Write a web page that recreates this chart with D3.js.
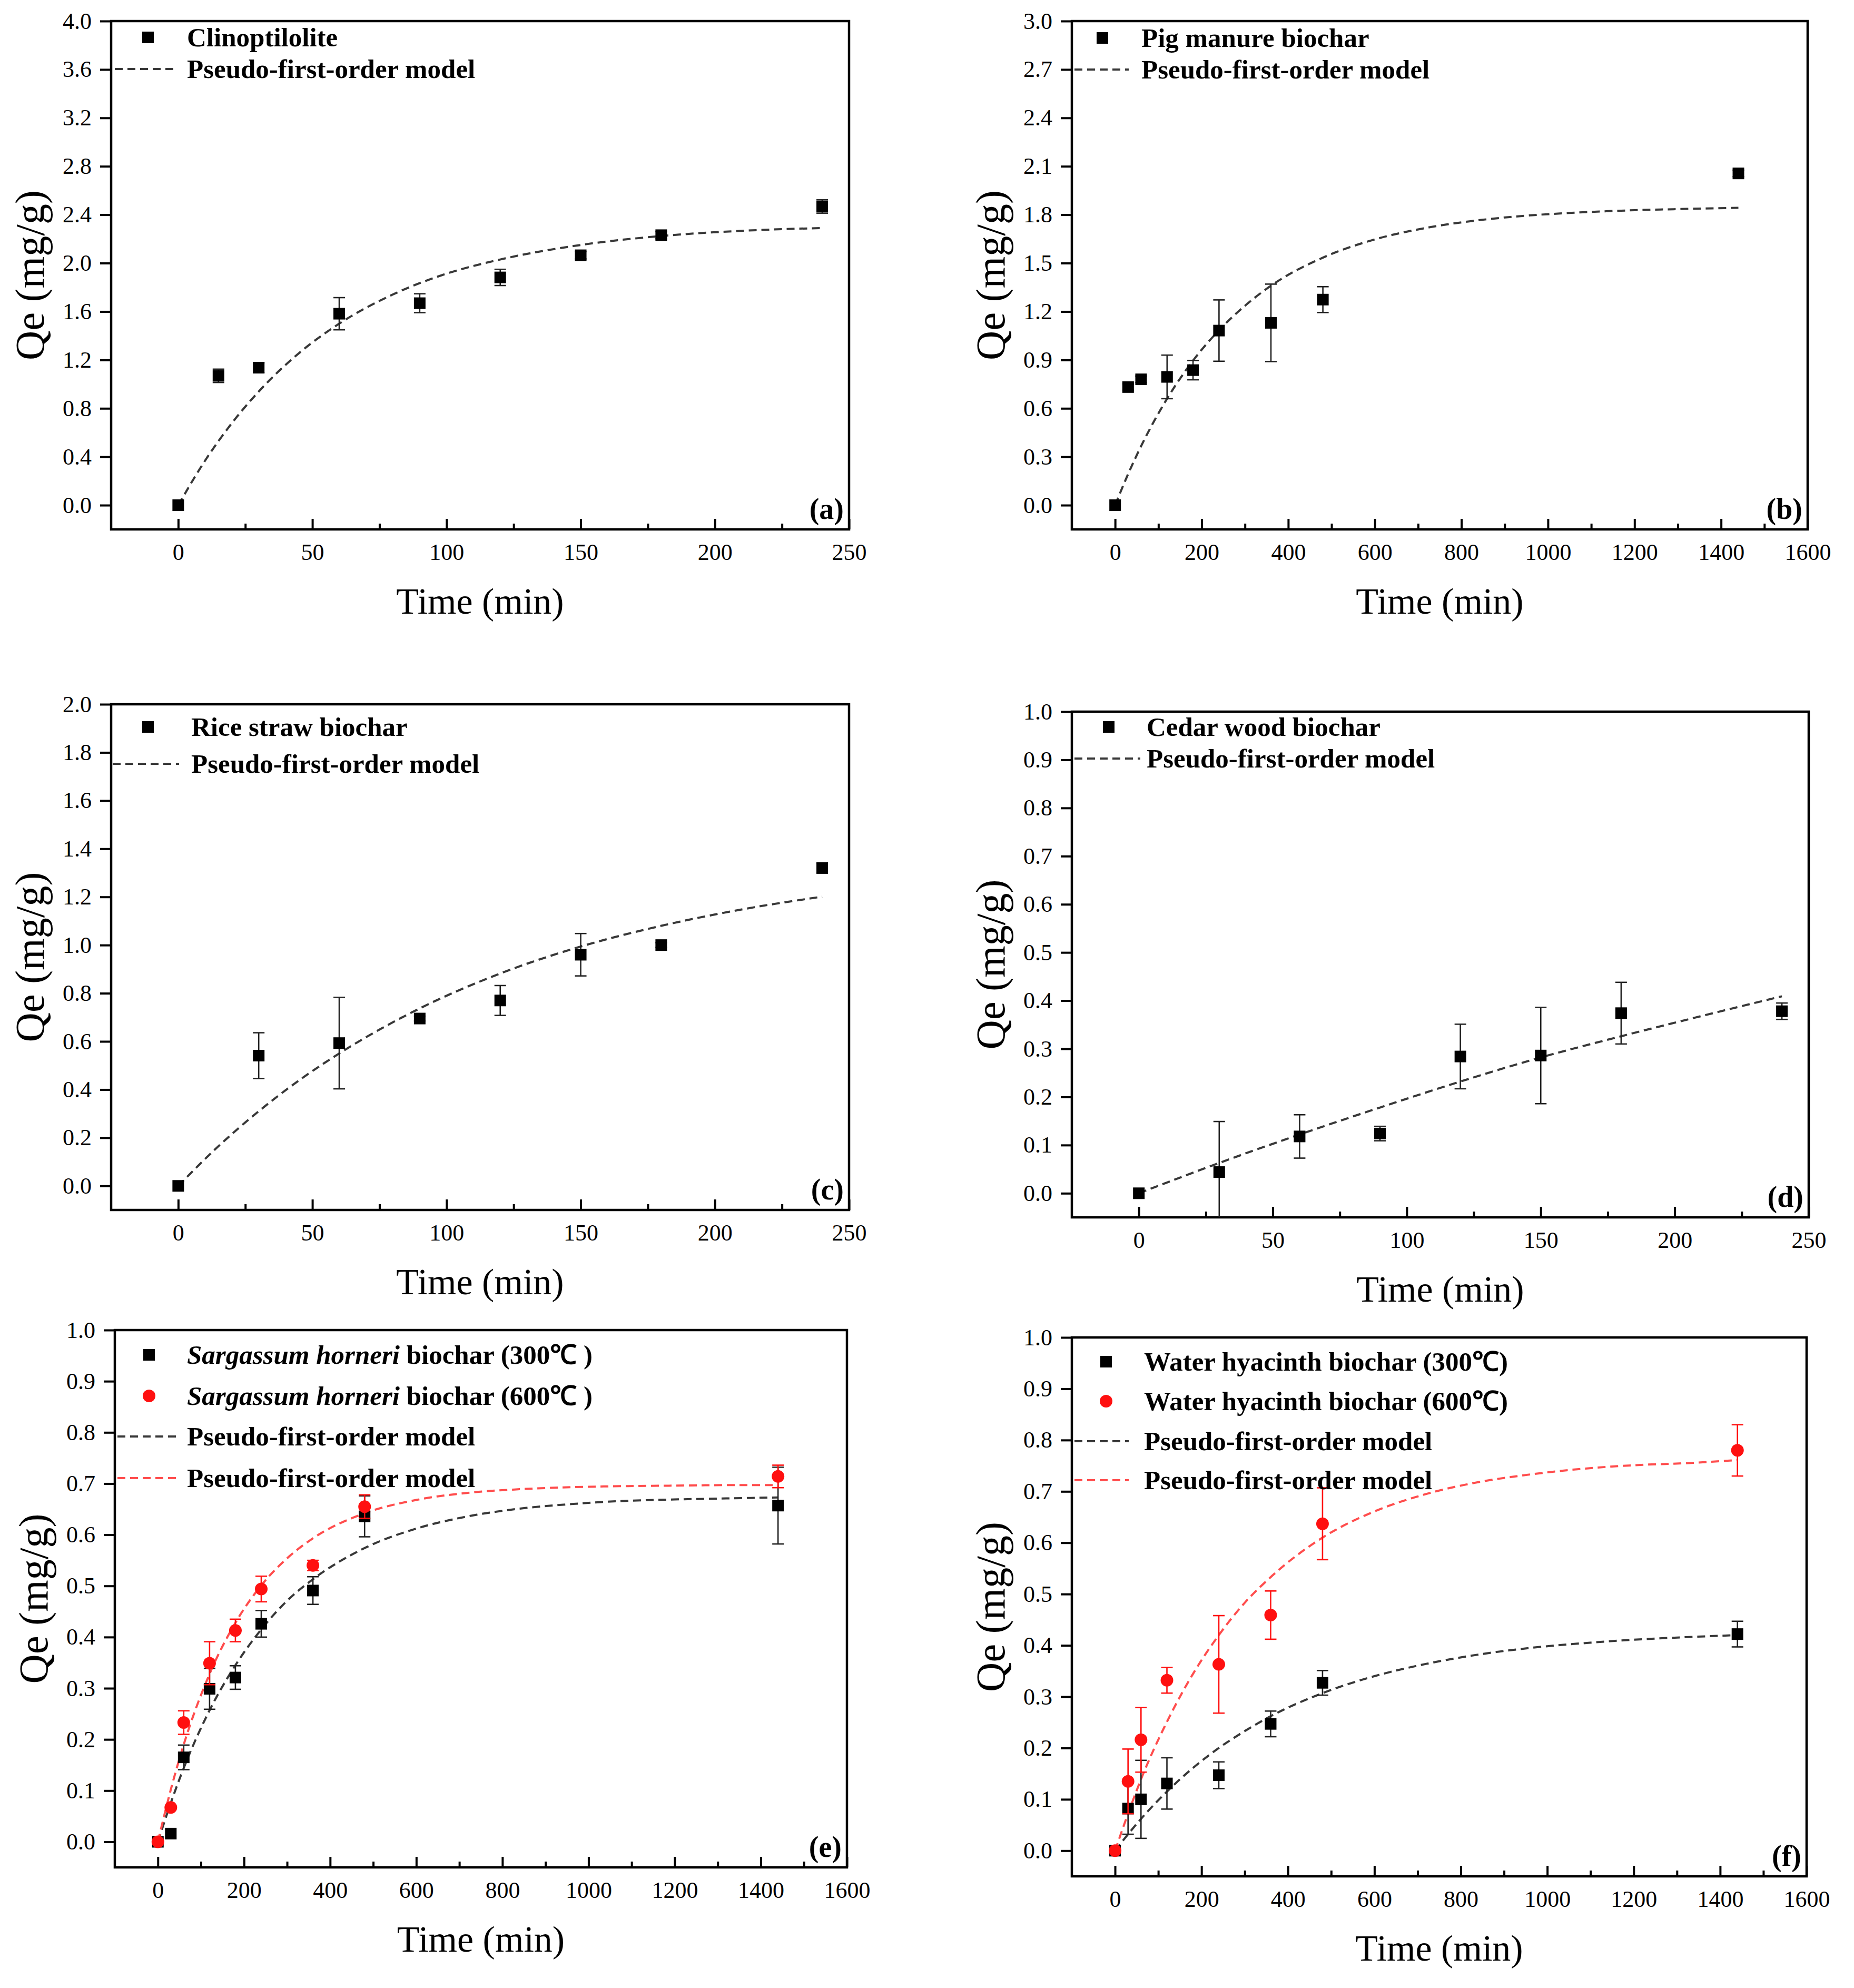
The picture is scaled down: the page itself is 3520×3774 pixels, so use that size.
<!DOCTYPE html>
<html><head><meta charset="utf-8">
<script src="https://cdnjs.cloudflare.com/ajax/libs/d3/7.8.5/d3.min.js"></script>
<style>html,body{margin:0;padding:0;background:#fff}svg{display:block}</style>
</head><body>
<svg id="chart" width="3520" height="3774"></svg>
<script>
// ---------------- DATA ----------------
// (a) Clinoptilolite
const timeA = [0,15,30,60,90,120,150,180,240];
const qeA   = [0,1.069,1.136,1.582,1.669,1.882,2.065,2.231,2.468];
const errA  = [0,0.055,0.04,0.133,0.078,0.067,0.03,0.03,0.055];
const fitTimeA = [0,10,20,30,45,60,80,100,120,150,180,210,240];
const fitQeA   = [0,0.368,0.678,0.939,1.256,1.50,1.741,1.913,2.03,2.15,2.224,2.267,2.29];
// (b) Pig manure biochar
const timeB = [0,30,60,120,180,240,360,480,1440];
const qeB   = [0,0.732,0.78,0.795,0.837,1.082,1.13,1.274,2.056];
const errB  = [0,0.02,0.02,0.135,0.06,0.19,0.24,0.08,0.02];
const fitTimeB = [0,30,60,90,120,180,240,300,360,480,600,720,840,960,1080,1200,1320,1440];
const fitQeB   = [0,0.193,0.366,0.521,0.66,0.896,1.084,1.236,1.36,1.534,1.647,1.719,1.766,1.796,1.815,1.828,1.836,1.843];
// (c) Rice straw biochar
const timeC = [0,30,60,90,120,150,180,240];
const qeC   = [0,0.541,0.593,0.695,0.77,0.96,1.0,1.32];
const errC  = [0,0.095,0.19,0.01,0.062,0.088,0.01,0.02];
const fitTimeC = [0,15,30,45,60,90,120,150,180,210,240];
const fitQeC   = [0,0.165,0.31,0.438,0.55,0.737,0.882,0.994,1.08,1.148,1.201];
// (d) Cedar wood biochar
const timeD = [0,30,60,90,120,150,180,240];
const qeD   = [0,0.044,0.118,0.124,0.284,0.286,0.374,0.378];
const errD  = [0,0.105,0.045,0.015,0.067,0.10,0.064,0.017];
const fitTimeD = [0,30,60,90,120,150,180,210,240];
const fitQeD   = [0,0.063,0.122,0.178,0.232,0.282,0.326,0.368,0.409];
// (e) Sargassum horneri biochar 300 / 600
const timeE = [0,30,60,120,180,240,360,480,1440];
const qeE300  = [0,0.016,0.165,0.299,0.321,0.426,0.491,0.636,0.657];
const errE300 = [0,0.005,0.024,0.04,0.023,0.026,0.027,0.04,0.075];
const qeE600  = [0,0.067,0.233,0.349,0.413,0.494,0.540,0.655,0.714];
const errE600 = [0,0.005,0.023,0.042,0.022,0.025,0.01,0.023,0.022];
const fitTimeEF = [0,30,60,120,180,240,300,360,480,600,720,840,960,1080,1200,1320,1440];
const fitQeE300 = [0,0.076,0.144,0.257,0.345,0.415,0.471,0.513,0.574,0.612,0.636,0.651,0.660,0.666,0.669,0.671,0.673];
const fitQeE600 = [0,0.102,0.19,0.328,0.428,0.501,0.554,0.593,0.642,0.668,0.682,0.689,0.693,0.695,0.696,0.697,0.697];
// (f) Water hyacinth biochar 300 / 600
const timeF = [0,30,60,120,240,360,480,1440];
const qeF300  = [0,0.082,0.10,0.131,0.147,0.247,0.327,0.422];
const errF300 = [0,0.05,0.076,0.05,0.026,0.025,0.024,0.025];
const qeF600  = [0,0.135,0.216,0.332,0.363,0.459,0.637,0.78];
const errF600 = [0,0.063,0.063,0.025,0.095,0.047,0.07,0.05];
const fitQeF300 = [0,0.032,0.062,0.115,0.161,0.20,0.233,0.262,0.307,0.340,0.364,0.382,0.395,0.404,0.411,0.416,0.420];
const fitQeF600 = [0,0.072,0.139,0.251,0.344,0.42,0.483,0.533,0.61,0.661,0.695,0.718,0.733,0.744,0.751,0.755,0.761];

// tick values
const xTicks250 = [0,50,100,150,200,250];
const xMinor250 = [25,75,125,175,225];
const xTicks1600 = [0,200,400,600,800,1000,1200,1400,1600];
const xMinor1600 = [100,300,500,700,900,1100,1300,1500];
const yTicksA = [0,0.4,0.8,1.2,1.6,2.0,2.4,2.8,3.2,3.6,4.0];
const yTicksB = [0,0.3,0.6,0.9,1.2,1.5,1.8,2.1,2.4,2.7,3.0];
const yTicksC = [0,0.2,0.4,0.6,0.8,1.0,1.2,1.4,1.6,1.8,2.0];
const yTicksD = [0,0.1,0.2,0.3,0.4,0.5,0.6,0.7,0.8,0.9,1.0];

// texts
const xTitle = "Time (min)";
const yTitle = "Qe (mg/g)";
const modelLabel = "Pseudo-first-order model";

// ---------------- STYLE / LAYOUT ----------------
const FONT = '"Liberation Serif","Times New Roman",Times,serif';
const BLACK = "#000", RED = "#ff1010", LINE_BLACK = "#383838", LINE_RED = "#ff4d4d";
const TICK_FS = 44, XTITLE_FS = 70, YTITLE_FS = 78, LEG_FS = 51, PLABEL_FS = 56;
const DASH = "15,9";

const zip = (t, q, e) => t.map((d, i) => ({t: d, q: q[i], e: e ? e[i] : 0}));
const zip2 = (t, q) => t.map((d, i) => [d, q[i]]);

const panels = [
  {id:"a", L:211, R:1612, T:40, B:1005, xd:[-25,250], yd:[-0.2,4.0], xt:xTicks250, xm:xMinor250, yt:yTicksA,
   series:[{pts:zip(timeA,qeA,errA), fit:zip2(fitTimeA,fitQeA), shape:"sq", color:BLACK, line:LINE_BLACK}],
   legend:{mx:281, tx:355, lx1:218, lx2:338, rows:[71,131],
     items:[{kind:"sq",color:BLACK,text:[["Clinoptilolite",false]]},{kind:"line",color:LINE_BLACK,text:[[modelLabel,false]]}]}},
  {id:"b", L:2035, R:3432, T:40, B:1005, xd:[-100,1600], yd:[-0.15,3.0], xt:xTicks1600, xm:xMinor1600, yt:yTicksB,
   series:[{pts:zip(timeB,qeB,errB), fit:zip2(fitTimeB,fitQeB), shape:"sq", color:BLACK, line:LINE_BLACK}],
   legend:{mx:2093, tx:2167, lx1:2040, lx2:2143, rows:[72,132],
     items:[{kind:"sq",color:BLACK,text:[["Pig manure biochar",false]]},{kind:"line",color:LINE_BLACK,text:[[modelLabel,false]]}]}},
  {id:"c", L:211, R:1612, T:1337, B:2297, xd:[-25,250], yd:[-0.1,2.0], xt:xTicks250, xm:xMinor250, yt:yTicksC,
   series:[{pts:zip(timeC,qeC,errC), fit:zip2(fitTimeC,fitQeC), shape:"sq", color:BLACK, line:LINE_BLACK}],
   legend:{mx:281, tx:363, lx1:214, lx2:340, rows:[1380,1450],
     items:[{kind:"sq",color:BLACK,text:[["Rice straw biochar",false]]},{kind:"line",color:LINE_BLACK,text:[[modelLabel,false]]}]}},
  {id:"d", L:2035, R:3434, T:1351, B:2311, xd:[-25,250], yd:[-0.05,1.0], xt:xTicks250, xm:xMinor250, yt:yTicksD,
   series:[{pts:zip(timeD,qeD,errD), fit:zip2(fitTimeD,fitQeD), shape:"sq", color:BLACK, line:LINE_BLACK}],
   legend:{mx:2105, tx:2177, lx1:2040, lx2:2165, rows:[1380,1440],
     items:[{kind:"sq",color:BLACK,text:[["Cedar wood biochar",false]]},{kind:"line",color:LINE_BLACK,text:[[modelLabel,false]]}]}},
  {id:"e", L:218, R:1608, T:2525, B:3545, xd:[-100,1600], yd:[-0.05,1.0], xt:xTicks1600, xm:xMinor1600, yt:yTicksD,
   series:[{pts:zip(timeE,qeE300,errE300), fit:zip2(fitTimeEF,fitQeE300), shape:"sq", color:BLACK, line:LINE_BLACK},
           {pts:zip(timeE,qeE600,errE600), fit:zip2(fitTimeEF,fitQeE600), shape:"ci", color:RED, line:LINE_RED}],
   legend:{mx:283, tx:355, lx1:223, lx2:338, rows:[2572,2650,2727,2806],
     items:[{kind:"sq",color:BLACK,text:[["Sargassum horneri",true],[" biochar (300℃ )",false]]},
            {kind:"ci",color:RED,text:[["Sargassum horneri",true],[" biochar (600℃ )",false]]},
            {kind:"line",color:LINE_BLACK,text:[[modelLabel,false]]},
            {kind:"line",color:LINE_RED,text:[[modelLabel,false]]}]}},
  {id:"f", L:2035, R:3430, T:2539, B:3562, xd:[-100,1600], yd:[-0.05,1.0], xt:xTicks1600, xm:xMinor1600, yt:yTicksD,
   series:[{pts:zip(timeF,qeF300,errF300), fit:zip2(fitTimeEF,fitQeF300), shape:"sq", color:BLACK, line:LINE_BLACK},
           {pts:zip(timeF,qeF600,errF600), fit:zip2(fitTimeEF,fitQeF600), shape:"ci", color:RED, line:LINE_RED}],
   legend:{mx:2100, tx:2172, lx1:2040, lx2:2143, rows:[2585,2660,2736,2810],
     items:[{kind:"sq",color:BLACK,text:[["Water hyacinth biochar (300℃)",false]]},
            {kind:"ci",color:RED,text:[["Water hyacinth biochar (600℃)",false]]},
            {kind:"line",color:LINE_BLACK,text:[[modelLabel,false]]},
            {kind:"line",color:LINE_RED,text:[[modelLabel,false]]}]}}
];

const svg = d3.select("#chart");
svg.append("rect").attr("width",3520).attr("height",3774).attr("fill","#fff");
const defs = svg.append("defs");

function styleAxis(s){
  s.attr("font-family", FONT).attr("font-size", TICK_FS);
  s.select(".domain").remove();
  s.selectAll(".tick line").attr("stroke", "#000").attr("stroke-width", 4);
  s.selectAll(".tick text").attr("fill", "#000");
}

function drawMarker(g, shape, cx, cy, color){
  if (shape === "sq") {
    g.append("rect").attr("x", cx - 11).attr("y", cy - 11).attr("width", 22).attr("height", 22).attr("fill", color);
  } else {
    g.append("circle").attr("cx", cx).attr("cy", cy).attr("r", 12).attr("fill", color);
  }
}

panels.forEach(p => {
  const x = d3.scaleLinear().domain(p.xd).range([p.L, p.R]);
  const y = d3.scaleLinear().domain(p.yd).range([p.B, p.T]);
  const g = svg.append("g").attr("class", "panel-" + p.id);
  const clipId = "clip-" + p.id;
  defs.append("clipPath").attr("id", clipId).append("rect")
    .attr("x", p.L).attr("y", p.T).attr("width", p.R - p.L).attr("height", p.B - p.T);

  // y axis (outward ticks)
  g.append("g").attr("transform", `translate(${p.L},0)`)
    .call(d3.axisLeft(y).tickValues(p.yt).tickSize(21).tickPadding(16).tickFormat(d3.format(".1f")))
    .call(styleAxis);
  // x axis (inward ticks)
  g.append("g").attr("transform", `translate(0,${p.B})`)
    .call(d3.axisBottom(x).tickValues(p.xt).tickSize(-20).tickPadding(27).tickFormat(d3.format("d")))
    .call(styleAxis);
  g.append("g").attr("transform", `translate(0,${p.B})`)
    .call(d3.axisBottom(x).tickValues(p.xm).tickSize(-11).tickFormat(""))
    .call(styleAxis);

  // frame
  g.append("rect").attr("x", p.L).attr("y", p.T).attr("width", p.R - p.L).attr("height", p.B - p.T)
    .attr("fill", "none").attr("stroke", "#000").attr("stroke-width", 4.5);

  const plot = g.append("g").attr("clip-path", `url(#${clipId})`);
  const line = d3.line().x(d => x(d[0])).y(d => y(d[1])).curve(d3.curveMonotoneX);

  p.series.forEach(s => {
    plot.append("path").datum(s.fit).attr("d", line).attr("fill", "none")
      .attr("stroke", s.line).attr("stroke-width", 4).attr("stroke-dasharray", DASH);
  });
  p.series.forEach(s => {
    const eg = plot.append("g").attr("stroke", s.color === RED ? RED : "#222").attr("stroke-width", 2.6);
    s.pts.filter(d => d.e > 0.008).forEach(d => {
      const cx = x(d.t), y1 = y(d.q + d.e), y2 = y(d.q - d.e);
      eg.append("line").attr("x1", cx).attr("x2", cx).attr("y1", y1).attr("y2", y2);
      eg.append("line").attr("x1", cx - 11).attr("x2", cx + 11).attr("y1", y1).attr("y2", y1);
      eg.append("line").attr("x1", cx - 11).attr("x2", cx + 11).attr("y1", y2).attr("y2", y2);
    });
    s.pts.forEach(d => drawMarker(plot, s.shape, x(d.t), y(d.q), s.color));
  });

  // legend
  const lg = g.append("g").attr("font-family", FONT).attr("font-size", LEG_FS).attr("font-weight", "bold");
  p.legend.items.forEach((it, i) => {
    const cy = p.legend.rows[i];
    if (it.kind === "line") {
      lg.append("line").attr("x1", p.legend.lx1).attr("x2", p.legend.lx2).attr("y1", cy).attr("y2", cy)
        .attr("stroke", it.color).attr("stroke-width", 4).attr("stroke-dasharray", DASH);
    } else {
      drawMarker(lg, it.kind, p.legend.mx, cy, it.color);
    }
    const t = lg.append("text").attr("x", p.legend.tx).attr("y", cy + LEG_FS * 0.34).attr("fill", "#000");
    it.text.forEach(([str, ital]) => {
      t.append("tspan").attr("font-style", ital ? "italic" : "normal").text(str);
    });
  });

  // panel label
  g.append("text").attr("x", p.R - 10).attr("y", p.B - 20).attr("text-anchor", "end")
    .attr("font-family", FONT).attr("font-weight", "bold").attr("font-size", PLABEL_FS).text(`(${p.id})`);

  // axis titles
  g.append("text").attr("x", (p.L + p.R) / 2).attr("y", p.B + 160).attr("text-anchor", "middle")
    .attr("font-family", FONT).attr("font-size", XTITLE_FS).text(xTitle);
  g.append("text").attr("transform", `translate(${p.L - 128},${(p.T + p.B) / 2}) rotate(-90)`)
    .attr("text-anchor", "middle").attr("font-family", FONT).attr("font-size", YTITLE_FS).text(yTitle);
});
</script>
</body></html>
